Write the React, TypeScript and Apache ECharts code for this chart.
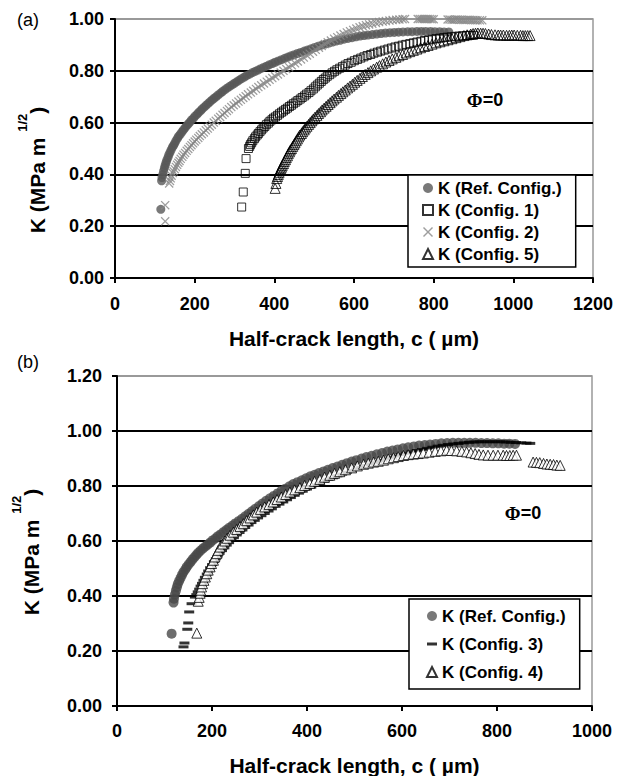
import React, { useEffect, useRef } from "react";
import * as echarts from "echarts";

const FONT = '"Liberation Sans", Arial, Helvetica, sans-serif';

// Panel (a) – K vs half-crack length c (µm)
const refA: [number, number][] = [
  [115, 0.265], [117, 0.375], [118, 0.388], [120, 0.4], [122, 0.413], [124, 0.425], [126, 0.435],
  [128, 0.445], [130, 0.455], [133, 0.465], [135, 0.475], [138, 0.485], [141, 0.495], [144, 0.505],
  [147, 0.512], [150, 0.52], [153, 0.53], [157, 0.54], [160, 0.548], [164, 0.555], [168, 0.564],
  [172, 0.572], [176, 0.58], [180, 0.588], [184, 0.595], [188, 0.602], [192, 0.61], [197, 0.617],
  [201, 0.625], [206, 0.632], [210, 0.639], [215, 0.646], [219, 0.653], [224, 0.66], [229, 0.667],
  [234, 0.674], [239, 0.681], [244, 0.688], [249, 0.694], [254, 0.7], [259, 0.707], [265, 0.714],
  [270, 0.72], [276, 0.727], [282, 0.734], [288, 0.74], [294, 0.746], [300, 0.752], [306, 0.758],
  [312, 0.764], [318, 0.77], [325, 0.776], [331, 0.782], [338, 0.787], [345, 0.793], [352, 0.798],
  [359, 0.803], [366, 0.808], [373, 0.813], [380, 0.818], [387, 0.823], [395, 0.828], [402, 0.833],
  [410, 0.838], [418, 0.843], [426, 0.848], [434, 0.853], [442, 0.858], [450, 0.862], [458, 0.867],
  [466, 0.871], [475, 0.876], [483, 0.88], [492, 0.885], [501, 0.89], [510, 0.895], [519, 0.899],
  [528, 0.903], [537, 0.907], [546, 0.911], [555, 0.915], [565, 0.918], [575, 0.922], [585, 0.925],
  [595, 0.928], [605, 0.931], [615, 0.934], [625, 0.936], [635, 0.938], [646, 0.94], [657, 0.942],
  [668, 0.944], [679, 0.946], [690, 0.947], [701, 0.948], [712, 0.949], [723, 0.95], [735, 0.951],
  [746, 0.951], [758, 0.952], [769, 0.952], [780, 0.952], [792, 0.952], [803, 0.951], [815, 0.951],
  [826, 0.95], [838, 0.95],
];
const cfg1A: [number, number][] = [
  [318, 0.274], [322, 0.332], [327, 0.404], [329, 0.461], [335, 0.5], [338, 0.508], [340, 0.515],
  [343, 0.522], [346, 0.53], [350, 0.538], [353, 0.545], [357, 0.552], [360, 0.558], [364, 0.565],
  [368, 0.572], [372, 0.579], [376, 0.585], [380, 0.592], [385, 0.598], [389, 0.605], [394, 0.611],
  [398, 0.617], [403, 0.622], [408, 0.628], [413, 0.634], [418, 0.64], [423, 0.645], [428, 0.651],
  [433, 0.656], [438, 0.662], [443, 0.667], [448, 0.673], [454, 0.679], [459, 0.685], [465, 0.691],
  [470, 0.697], [476, 0.703], [481, 0.71], [487, 0.716], [492, 0.723], [498, 0.73], [503, 0.738],
  [508, 0.745], [513, 0.752], [518, 0.759], [523, 0.766], [528, 0.772], [533, 0.779], [539, 0.785],
  [545, 0.792], [551, 0.798], [557, 0.804], [564, 0.81], [571, 0.816], [578, 0.822], [585, 0.828],
  [593, 0.833], [601, 0.839], [609, 0.844], [617, 0.849], [625, 0.854], [633, 0.859], [642, 0.863],
  [650, 0.868], [659, 0.872], [667, 0.876], [676, 0.88], [685, 0.884], [694, 0.888], [703, 0.892],
  [712, 0.895], [721, 0.899], [730, 0.902], [740, 0.905], [749, 0.908], [758, 0.911], [768, 0.914],
  [777, 0.917], [787, 0.919], [796, 0.922], [806, 0.924], [815, 0.926], [825, 0.928], [834, 0.93],
  [844, 0.931], [853, 0.933], [863, 0.934], [872, 0.935], [882, 0.936], [891, 0.937], [900, 0.937],
];
const cfg2A: [number, number][] = [
  [126, 0.219], [126, 0.281], [136, 0.365], [138, 0.375], [140, 0.385], [142, 0.395], [145, 0.405],
  [147, 0.412], [150, 0.42], [153, 0.429], [156, 0.437], [159, 0.445], [162, 0.452], [165, 0.46],
  [169, 0.468], [172, 0.476], [176, 0.483], [180, 0.491], [184, 0.498], [188, 0.506], [192, 0.513],
  [196, 0.52], [200, 0.527], [204, 0.534], [209, 0.541], [213, 0.548], [218, 0.555], [223, 0.562],
  [228, 0.57], [233, 0.577], [238, 0.585], [243, 0.592], [248, 0.6], [253, 0.607], [259, 0.615],
  [264, 0.622], [270, 0.63], [275, 0.637], [281, 0.645], [286, 0.652], [292, 0.66], [298, 0.667],
  [304, 0.674], [310, 0.681], [316, 0.688], [322, 0.695], [328, 0.702], [334, 0.709], [341, 0.716],
  [347, 0.723], [354, 0.73], [360, 0.737], [367, 0.744], [374, 0.751], [381, 0.758], [388, 0.765],
  [395, 0.772], [402, 0.779], [409, 0.786], [416, 0.793], [423, 0.8], [430, 0.807], [437, 0.814],
  [444, 0.821], [452, 0.829], [459, 0.836], [467, 0.844], [474, 0.851], [482, 0.859], [489, 0.866],
  [497, 0.874], [504, 0.881], [512, 0.889], [519, 0.896], [527, 0.903], [534, 0.91], [542, 0.917],
  [550, 0.924], [558, 0.93], [566, 0.936], [574, 0.942], [582, 0.948], [590, 0.953], [598, 0.958],
  [606, 0.963], [614, 0.968], [622, 0.972], [630, 0.976], [638, 0.979], [646, 0.982], [655, 0.985],
  [663, 0.988], [672, 0.99], [680, 0.992], [689, 0.994], [697, 0.996], [706, 0.997], [714, 0.998],
  [722, 0.999], [728, 1.0], [760, 1.0], [765, 1.0], [770, 1.0], [775, 1.0], [780, 1.0], [785, 1.0],
  [790, 1.0], [795, 0.999], [800, 0.999], [835, 0.998], [840, 0.998], [845, 0.997], [850, 0.997],
  [855, 0.998], [860, 0.998], [865, 0.997], [870, 0.997], [875, 0.996], [880, 0.996], [885, 0.997],
  [890, 0.997], [895, 0.996], [900, 0.996], [905, 0.995], [910, 0.995], [916, 0.995], [922, 0.995],
];
const cfg5A: [number, number][] = [
  [402, 0.346], [404, 0.365], [406, 0.384], [408, 0.392], [410, 0.4], [412, 0.408], [414, 0.415],
  [416, 0.422], [418, 0.428], [420, 0.435], [423, 0.442], [425, 0.45], [428, 0.457], [430, 0.465],
  [433, 0.472], [435, 0.48], [438, 0.487], [440, 0.494], [443, 0.5], [446, 0.508], [449, 0.515],
  [452, 0.522], [455, 0.53], [458, 0.537], [461, 0.545], [464, 0.552], [468, 0.558], [471, 0.565],
  [475, 0.572], [478, 0.579], [482, 0.586], [486, 0.593], [490, 0.6], [494, 0.607], [498, 0.614],
  [502, 0.621], [507, 0.628], [511, 0.635], [516, 0.642], [520, 0.649], [525, 0.656], [530, 0.663],
  [535, 0.67], [540, 0.677], [545, 0.684], [550, 0.691], [556, 0.698], [561, 0.705], [567, 0.712],
  [572, 0.719], [578, 0.726], [584, 0.734], [590, 0.741], [596, 0.748], [602, 0.756], [608, 0.763],
  [615, 0.771], [621, 0.778], [628, 0.786], [635, 0.793], [642, 0.8], [649, 0.807], [657, 0.814],
  [664, 0.82], [672, 0.827], [680, 0.834], [688, 0.84], [696, 0.846], [705, 0.852], [713, 0.858],
  [722, 0.863], [731, 0.869], [740, 0.874], [749, 0.879], [758, 0.884], [767, 0.889], [777, 0.894],
  [786, 0.898], [796, 0.903], [806, 0.908], [816, 0.912], [826, 0.916], [836, 0.92], [846, 0.924],
  [856, 0.928], [866, 0.932], [876, 0.936], [884, 0.939], [893, 0.942], [899, 0.944], [905, 0.945],
  [911, 0.946], [918, 0.945], [924, 0.945], [930, 0.944], [938, 0.942], [945, 0.94], [954, 0.939],
  [962, 0.938], [968, 0.938], [975, 0.938], [983, 0.937], [990, 0.937], [996, 0.938], [1002, 0.938],
  [1010, 0.937], [1018, 0.937], [1024, 0.936], [1030, 0.936], [1036, 0.936], [1042, 0.936],
];

// Panel (b)
const refB: [number, number][] = [
  [115, 0.263], [119, 0.376], [120, 0.39], [122, 0.405], [124, 0.419], [126, 0.432], [128, 0.444],
  [131, 0.455], [134, 0.466], [137, 0.477], [140, 0.487], [144, 0.497], [147, 0.506], [151, 0.515],
  [155, 0.524], [159, 0.533], [163, 0.541], [167, 0.549], [171, 0.557], [176, 0.565], [181, 0.573],
  [186, 0.58], [191, 0.587], [196, 0.594], [201, 0.602], [207, 0.609], [212, 0.617], [218, 0.624],
  [224, 0.632], [230, 0.64], [236, 0.648], [243, 0.656], [249, 0.664], [256, 0.672], [263, 0.681],
  [270, 0.69], [277, 0.699], [284, 0.708], [291, 0.717], [299, 0.727], [306, 0.736], [314, 0.746],
  [322, 0.755], [330, 0.764], [338, 0.773], [346, 0.782], [354, 0.79], [363, 0.799], [371, 0.807],
  [380, 0.814], [389, 0.821], [398, 0.828], [407, 0.835], [416, 0.841], [425, 0.847], [435, 0.853],
  [444, 0.859], [454, 0.865], [464, 0.871], [474, 0.877], [484, 0.883], [494, 0.889], [504, 0.894],
  [515, 0.9], [525, 0.905], [536, 0.91], [547, 0.915], [558, 0.92], [569, 0.925], [580, 0.929],
  [591, 0.933], [602, 0.937], [613, 0.941], [625, 0.944], [636, 0.947], [648, 0.949], [659, 0.951],
  [671, 0.953], [683, 0.955], [695, 0.956], [707, 0.957], [719, 0.957], [731, 0.957], [743, 0.957],
  [755, 0.957], [767, 0.956], [779, 0.956], [791, 0.955], [803, 0.955], [815, 0.954], [826, 0.954],
  [838, 0.953],
];
const cfg3B: [number, number][] = [
  [140, 0.215], [142, 0.229], [148, 0.279], [150, 0.302], [152, 0.342], [157, 0.372], [164, 0.396],
  [167, 0.405], [170, 0.415], [173, 0.425], [176, 0.436], [179, 0.446], [182, 0.457], [185, 0.468],
  [189, 0.48], [192, 0.491], [196, 0.503], [200, 0.514], [204, 0.525], [208, 0.535], [212, 0.545],
  [216, 0.555], [221, 0.565], [226, 0.575], [231, 0.585], [236, 0.594], [241, 0.603], [246, 0.612],
  [252, 0.622], [258, 0.631], [264, 0.64], [270, 0.649], [277, 0.658], [283, 0.667], [290, 0.675],
  [297, 0.684], [304, 0.692], [311, 0.7], [319, 0.709], [326, 0.717], [334, 0.726], [342, 0.734],
  [350, 0.742], [358, 0.75], [366, 0.758], [374, 0.766], [383, 0.774], [391, 0.781], [400, 0.789],
  [409, 0.796], [418, 0.803], [427, 0.81], [436, 0.817], [445, 0.824], [455, 0.83], [464, 0.837],
  [474, 0.843], [484, 0.85], [494, 0.856], [504, 0.862], [514, 0.868], [524, 0.874], [535, 0.88],
  [545, 0.886], [556, 0.892], [566, 0.898], [577, 0.903], [587, 0.909], [598, 0.914], [609, 0.919],
  [620, 0.924], [631, 0.929], [642, 0.933], [653, 0.937], [664, 0.941], [675, 0.945], [686, 0.948],
  [697, 0.951], [708, 0.953], [719, 0.955], [730, 0.957], [741, 0.959], [752, 0.96], [763, 0.961],
  [774, 0.961], [785, 0.961], [796, 0.961], [807, 0.961], [818, 0.96], [829, 0.959], [840, 0.958],
  [851, 0.957], [862, 0.956], [870, 0.955],
];
const cfg4B: [number, number][] = [
  [168, 0.265], [171, 0.381], [173, 0.395], [175, 0.41], [176, 0.421], [178, 0.433], [180, 0.445],
  [183, 0.457], [186, 0.469], [189, 0.481], [192, 0.494], [196, 0.506], [199, 0.518], [203, 0.53],
  [206, 0.542], [210, 0.554], [213, 0.566], [217, 0.578], [222, 0.589], [227, 0.6], [232, 0.61],
  [238, 0.621], [245, 0.632], [252, 0.642], [259, 0.653], [266, 0.663], [273, 0.674], [280, 0.684],
  [287, 0.695], [294, 0.705], [302, 0.715], [311, 0.724], [320, 0.733], [329, 0.742], [337, 0.751],
  [346, 0.76], [355, 0.769], [364, 0.778], [374, 0.786], [385, 0.794], [395, 0.802], [406, 0.809],
  [416, 0.817], [427, 0.824], [437, 0.832], [448, 0.839], [458, 0.846], [469, 0.852], [481, 0.859],
  [494, 0.866], [506, 0.873], [519, 0.879], [529, 0.883], [540, 0.887], [550, 0.89], [561, 0.894],
  [571, 0.899], [582, 0.903], [592, 0.907], [603, 0.911], [613, 0.914], [624, 0.916], [634, 0.918],
  [645, 0.92], [657, 0.923], [670, 0.926], [682, 0.928], [694, 0.93], [704, 0.929], [715, 0.928],
  [726, 0.926], [736, 0.924], [745, 0.921], [754, 0.918], [762, 0.915], [771, 0.913], [781, 0.912],
  [792, 0.912], [802, 0.912], [813, 0.912], [820, 0.911], [827, 0.911], [834, 0.912], [841, 0.912],
  [876, 0.887], [883, 0.886], [890, 0.885], [898, 0.882], [905, 0.88], [912, 0.879], [919, 0.878],
  [926, 0.876], [933, 0.875],
];

const NAMES_A = ["K (Ref. Config.)", "K (Config. 1)", "K (Config. 2)", "K (Config. 5)"];
const NAMES_B = ["K (Ref. Config.)", "K (Config. 3)", "K (Config. 4)"];
const X_TITLE = "Half-crack length, c ( µm)";

const X_PATH = "path://M0,1L1,0L5,4L9,0L10,1L6,5L10,9L9,10L5,6L1,10L0,9L4,5Z";
const DASH_PATH = "path://M0,0H10V3H0Z";

function xAxis(gridIndex: number, max: number, interval: number, gap: number, margin: number) {
  return {
    type: "value",
    gridIndex,
    min: 0,
    max,
    interval,
    axisLine: { show: true, onZero: false, lineStyle: { color: "#000", width: 2 } },
    axisTick: { show: true, length: 5, lineStyle: { color: "#000", width: 2 } },
    axisLabel: {
      fontSize: 18,
      fontWeight: "bold",
      color: "#000",
      fontFamily: FONT,
      margin,
      formatter: (v: number) => String(Math.round(v)),
    },
    splitLine: { show: false },
    name: X_TITLE,
    nameLocation: "middle",
    nameGap: gap,
    nameTextStyle: { fontSize: 21, fontWeight: "bold", color: "#000", fontFamily: FONT },
  };
}

function yAxis(gridIndex: number, max: number, nLines: number, margin: number) {
  const colors: string[] = [];
  for (let i = 0; i < nLines; i++) colors.push(i === nLines - 1 ? "#999" : "#000");
  return {
    type: "value",
    gridIndex,
    min: 0,
    max,
    interval: 0.2,
    axisLine: { show: true, onZero: false, lineStyle: { color: "#000", width: 2 } },
    axisTick: { show: true, length: 5, lineStyle: { color: "#000", width: 2 } },
    axisLabel: {
      fontSize: 18,
      fontWeight: "bold",
      color: "#000",
      fontFamily: FONT,
      margin,
      formatter: (v: number) => v.toFixed(2),
    },
    splitLine: { show: true, lineStyle: { color: colors, width: 2 } },
  };
}

function legend(names: string[], left: number, top: number, lineHeight: number, padding: number[]) {
  return {
    orient: "vertical",
    left,
    top,
    data: names,
    itemWidth: 10,
    itemHeight: 10,
    itemGap: 0,
    padding,
    backgroundColor: "#fff",
    borderColor: "#000",
    borderWidth: 1.5,
    selectedMode: false,
    textStyle: { fontSize: 17, fontWeight: "bold", color: "#000", fontFamily: FONT, lineHeight },
  };
}

function yTitle(x: number, y: number) {
  return {
    type: "text",
    x,
    y,
    rotation: Math.PI / 2,
    z: 100,
    style: {
      text: "{m|K (MPa m }{s|1/2}{m|)}",
      align: "center",
      verticalAlign: "middle",
      fill: "#000",
      rich: {
        m: { fontSize: 21, fontWeight: "bold", fontFamily: FONT, lineHeight: 32, verticalAlign: "bottom" },
        s: { fontSize: 13, fontWeight: "bold", fontFamily: FONT, lineHeight: 32, verticalAlign: "top" },
      },
    },
  };
}

function phiLabel(x: number, y: number) {
  return {
    type: "text",
    x,
    y,
    z: 100,
    style: {
      text: "{p|Φ}{t|=0}",
      align: "center",
      verticalAlign: "middle",
      fill: "#000",
      rich: {
        p: { fontSize: 19, fontFamily: '"Liberation Serif", "Times New Roman", serif', fontWeight: "bold" },
        t: { fontSize: 18, fontFamily: FONT, fontWeight: "bold" },
      },
    },
  };
}

export default function App() {
  const ref = useRef<HTMLDivElement>(null);
  useEffect(() => {
    if (!ref.current) return;
    const chart = echarts.init(ref.current, null, { renderer: "svg" });
    const openStyle = { color: "rgba(255,255,255,0)", borderColor: "#000", borderWidth: 1 };
    chart.setOption({
      animation: false,
      backgroundColor: "#fff",
      textStyle: { fontFamily: FONT },
      grid: [
        { left: 115, right: 33, top: 19, bottom: 498, show: true, borderColor: "#999", borderWidth: 1.5, backgroundColor: "transparent", containLabel: false, outerBoundsMode: "none" },
        { left: 117, right: 34, top: 376, bottom: 70, show: true, borderColor: "#999", borderWidth: 1.5, backgroundColor: "transparent", containLabel: false, outerBoundsMode: "none" },
      ],
      xAxis: [xAxis(0, 1200, 200, 50, 17), xAxis(1, 1000, 200, 49, 16)],
      yAxis: [yAxis(0, 1.0, 6, 11), yAxis(1, 1.2, 7, 15)],
      legend: [
        legend(NAMES_A, 408, 175, 22, [2, 14, 2, 14]),
        legend(NAMES_B, 409, 599, 28, [3, 14, 3, 17]),
      ],
      series: [
        { name: NAMES_A[0], type: "scatter", xAxisIndex: 0, yAxisIndex: 0, data: refA, symbol: "circle", symbolSize: 9, itemStyle: { color: "#585858" } },
        { name: NAMES_A[1], type: "scatter", xAxisIndex: 0, yAxisIndex: 0, data: cfg1A, symbol: "rect", symbolSize: 8, itemStyle: openStyle },
        { name: NAMES_A[2], type: "scatter", xAxisIndex: 0, yAxisIndex: 0, data: cfg2A, symbol: X_PATH, symbolSize: 9, itemStyle: { color: "#868686" } },
        { name: NAMES_A[3], type: "scatter", xAxisIndex: 0, yAxisIndex: 0, data: cfg5A, symbol: "triangle", symbolSize: 10, itemStyle: openStyle },
        { name: NAMES_B[0], type: "scatter", xAxisIndex: 1, yAxisIndex: 1, data: refB, symbol: "circle", symbolSize: 10, itemStyle: { color: "#484848" } },
        { name: NAMES_B[1], type: "scatter", xAxisIndex: 1, yAxisIndex: 1, data: cfg3B, symbol: DASH_PATH, symbolSize: [10, 3], itemStyle: { color: "#000" } },
        { name: NAMES_B[2], type: "scatter", xAxisIndex: 1, yAxisIndex: 1, data: cfg4B, symbol: "triangle", symbolSize: 10, itemStyle: { color: "#fff", borderColor: "#000", borderWidth: 1 } },
      ],
      graphic: [
        { type: "text", x: 28, y: 20, z: 100, style: { text: "(a)", fontSize: 18, fontFamily: FONT, fill: "#000", align: "center", verticalAlign: "middle" } },
        { type: "text", x: 28, y: 362, z: 100, style: { text: "(b)", fontSize: 18, fontFamily: FONT, fill: "#000", align: "center", verticalAlign: "middle" } },
        yTitle(31.5, 170),
        yTitle(26, 552),
        phiLabel(485, 100),
        phiLabel(523, 513),
      ],
    });
    return () => chart.dispose();
  }, []);
  return (
    <div
      ref={ref}
      style={{ position: "absolute", left: 0, top: 0, width: 626, height: 776, background: "#fff" }}
    />
  );
}
